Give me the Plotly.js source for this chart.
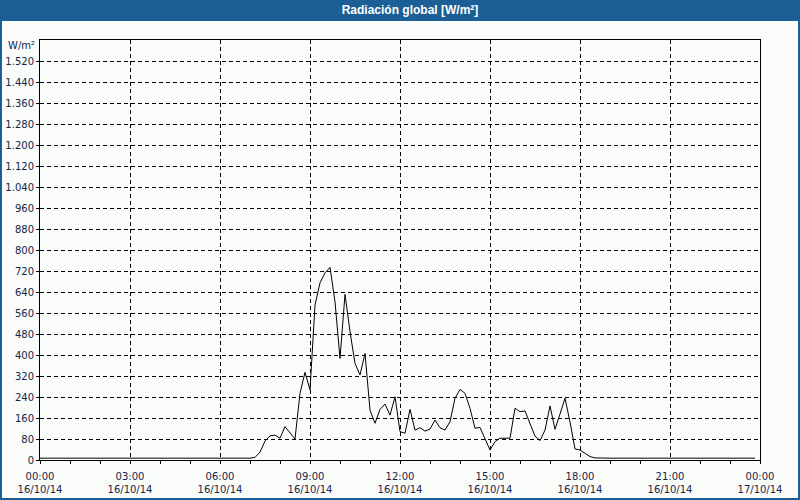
<!DOCTYPE html>
<html>
<head>
<meta charset="utf-8">
<script src="https://cdn.plot.ly/plotly-3.0.1.min.js"></script>
<style>html,body{margin:0;padding:0;background:#fafcfa;}#chart{width:800px;height:500px;}</style>
</head>
<body>
<div id="chart"></div>
<script>
// ---- data ----
const titleText = "Radiación global [W/m²]";
const unitLabel = "W/m²";
const startTime = "2014-10-16T00:00:00";
const stepMinutes = 10;
// 10-minute values of global radiation, 00:00 .. 23:50
const nightMorning = [7,7,7,7,7,7,7,7,7,7,7,7,7,7,7,7,7,7,7,7,7,7,7,7,7,7,7,7,7,7,7,7,7,7,7,7,7,7,7,7,7,7,7];
const daytime = [10,30,72,92,95,83,127,102,80,254,334,267,590,675,713,734,603,387,631,489,368,324,406,190,140,193,213,171,241,108,102,193,114,123,110,118,152,123,114,146,235,269,254,197,121,124,79,38,70,83,83,83,197,184,187,140,91,74,114,206,117,175,235,145,42,38,25,13,8];
const evening = [7,7,7,7,7,7,7,7,7,7,7,7,7,7,7,7,7,7,7,7,7,7,7,7,7,7,7,7,7,7,7,7];
const yTickVals = [0,80,160,240,320,400,480,560,640,720,800,880,960,1040,1120,1200,1280,1360,1440,1520];
const yTickText = ["0","80","160","240","320","400","480","560","640","720","800","880","960","1.040","1.120","1.200","1.280","1.360","1.440","1.520"];
const xRange = ["2014-10-16 00:00","2014-10-17 00:00"];
const yRange = [0,1600];

// ---- build ----
const values = nightMorning.concat(daytime, evening);
const t0 = new Date(startTime).getTime();
function fmt(ms){const d=new Date(ms);const p=n=>String(n).padStart(2,'0');return d.getFullYear()+'-'+p(d.getMonth()+1)+'-'+p(d.getDate())+' '+p(d.getHours())+':'+p(d.getMinutes());}
const times = values.map((v,i)=>fmt(t0+i*stepMinutes*60000));

const W=800,H=500,M={l:40,r:40,t:40,b:40};
const pw=W-M.l-M.r, ph=H-M.t-M.b;
const px=x=>(x-M.l)/pw, py=y=>(H-M.b-y)/ph;
const blue="#1c5f96";
const fontFam="DejaVu Sans, Verdana, sans-serif";
const titleFam="Liberation Sans, Arial, sans-serif";
const txt="#15254a";

const trace={x:times,y:values,type:'scatter',mode:'lines',line:{color:'#000',width:1},hoverinfo:'skip'};

const layout={
  width:W,height:H,margin:M,
  paper_bgcolor:'#fafcfa',plot_bgcolor:'#fafcfa',
  showlegend:false,
  title:{text:titleText,font:{family:titleFam,size:12,color:'#ffffff',weight:'bold'},xref:'paper',x:px(410),xanchor:'center',yref:'container',y:1-10/H,yanchor:'middle'},
  xaxis:{type:'date',range:xRange,dtick:3*3600000,tick0:xRange[0],tickformat:'%H:%M<br>%d/%m/%y',
    showgrid:true,gridcolor:'#000',gridwidth:1,griddash:'4px,3px',
    showline:true,linecolor:'#000',linewidth:1,mirror:true,
    ticks:'outside',ticklen:3,tickcolor:'#000',ticklabelstandoff:4,
    minor:{dtick:3600000,ticks:'outside',ticklen:3,tickcolor:'#000',showgrid:false},
    tickfont:{family:fontFam,size:10,color:txt},zeroline:false,fixedrange:true},
  yaxis:{range:yRange,tickmode:'array',tickvals:yTickVals,ticktext:yTickText,
    showgrid:true,gridcolor:'#000',gridwidth:1,griddash:'4px,3px',
    showline:true,linecolor:'#000',linewidth:1,mirror:true,
    ticks:'outside',ticklen:3,tickcolor:'#000',
    tickfont:{family:fontFam,size:10,color:txt},zeroline:false,fixedrange:true},
  shapes:[
    {type:'rect',xref:'paper',yref:'paper',x0:px(0),x1:px(W),y0:py(21),y1:py(0),fillcolor:blue,line:{width:0},layer:'below'},
    {type:'rect',xref:'paper',yref:'paper',x0:px(1),x1:px(W-1),y0:py(H-1),y1:py(1),fillcolor:'rgba(0,0,0,0)',line:{color:blue,width:2},layer:'above'}
  ],
  annotations:[
    {text:unitLabel,xref:'paper',yref:'paper',x:0,y:1,xanchor:'right',yanchor:'middle',xshift:-3,yshift:-5,showarrow:false,font:{family:fontFam,size:10,color:txt}}
  ]
};
Plotly.newPlot('chart',[trace],layout,{staticPlot:true,displayModeBar:false});
</script>
</body>
</html>
